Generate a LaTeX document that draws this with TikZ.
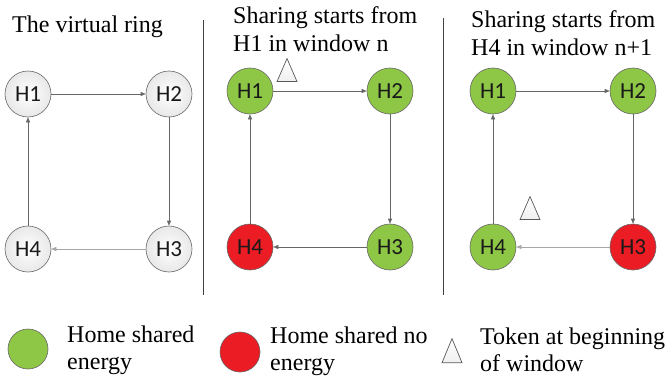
\documentclass[tikz,border=0pt]{standalone}
\usepackage{fontspec}
\setmainfont{Liberation Serif}
\newfontfamily\labelfont{Carlito}
\usepackage{xcolor}
\usetikzlibrary{arrows.meta, shapes.geometric}
\definecolor{sharegreen}{RGB}{142,198,70}
\definecolor{sharered}{RGB}{236,28,36}

\begin{document}
\begin{tikzpicture}[
		x = 1pt, y = -1pt, % pixel grid, y going down
		> = {Triangle[length=5pt, width=4pt]}, % arrow head style
		home/.style = {circle, draw=black!60, line width=0.6pt, minimum size=46pt, inner sep=0pt,
			font=\labelfont\fontsize{23}{23}\selectfont, text=black!90},
		idle/.style = {home, inner color=white, outer color=black!9},
		shared/.style = {home, fill=sharegreen},
		noshare/.style = {home, fill=sharered},
		token/.style = {isosceles triangle, isosceles triangle stretches, shape border rotate=90,
			minimum width=20pt, minimum height=23pt, inner sep=0pt, draw=black!65, line width=0.7pt,
			top color=white, bottom color=black!6},
		title/.style = {anchor=base west, align=left, inner sep=0pt, font=\fontsize{24}{28}\selectfont},
		legend/.style = {title, font=\fontsize{24}{27}\selectfont},
		link/.style = {->, draw=black!60, line width=0.6pt},
		faint/.style = {link, draw=black!35},
		divider/.style = {draw=black!75, line width=0.8pt},
	]
	\useasboundingbox (0,0) rectangle (668,377);

	% titles (base = last line)
	\node[title] (t1) at (12,33) {The virtual ring};
	\node[title] (t2) at (233,52) {Sharing starts from\\H1 in window n};
	\node[title] (t3) at (471,56) {Sharing starts from\\H4 in window n+1};

	% separators
	\draw[divider] (203,20) -- (203,295);
	\draw[divider] (443,18) -- (443,295);

	% the virtual ring
	\node[idle] (a1) at (28,94){H1};
	\node[idle] (a2) at (169,94){H2};
	\node[idle] (a3) at (169,249){H3};
	\node[idle] (a4) at (28,249){H4};
	\draw[link] (a1) -- (a2);
	\draw[link] (a2) -- (a3);
	\draw[faint] (a3) -- (a4);
	\draw[link] (a4) -- (a1);

	% window n
	\node[shared] (b1) at (250,91){H1};
	\node[shared] (b2) at (390,91){H2};
	\node[shared] (b3) at (390,247){H3};
	\node[noshare] (b4) at (250,247){H4};
	\node[token] (k1) at (287,75){};
	\draw[link] (b1) -- (b2);
	\draw[link] (b2) -- (b3);
	\draw[link] (b3) -- (b4);
	\draw[link] (b4) -- (b1);

	% window n+1
	\node[shared] (c1) at (493,91){H1};
	\node[shared] (c2) at (633,91){H2};
	\node[noshare] (c3) at (633,247){H3};
	\node[shared] (c4) at (493,247){H4};
	\node[token] (k2) at (530,213){};
	\draw[link] (c1) -- (c2);
	\draw[link] (c2) -- (c3);
	\draw[faint] (c3) -- (c4);
	\draw[link] (c4) -- (c1);

	% legend
	\node[shared, minimum size=40pt] (g) at (28,349){};
	\node[legend] (gt) at (67,369) {Home shared\\energy};
	\node[noshare, minimum size=40pt] (r) at (240,352){};
	\node[legend] (rt) at (270,370) {Home shared no\\energy};
	\node[token, minimum height=24pt] (k) at (452,356){};
	\node[legend] (kt) at (480,371) {Token at beginning\\of window};
\end{tikzpicture}
\end{document}
